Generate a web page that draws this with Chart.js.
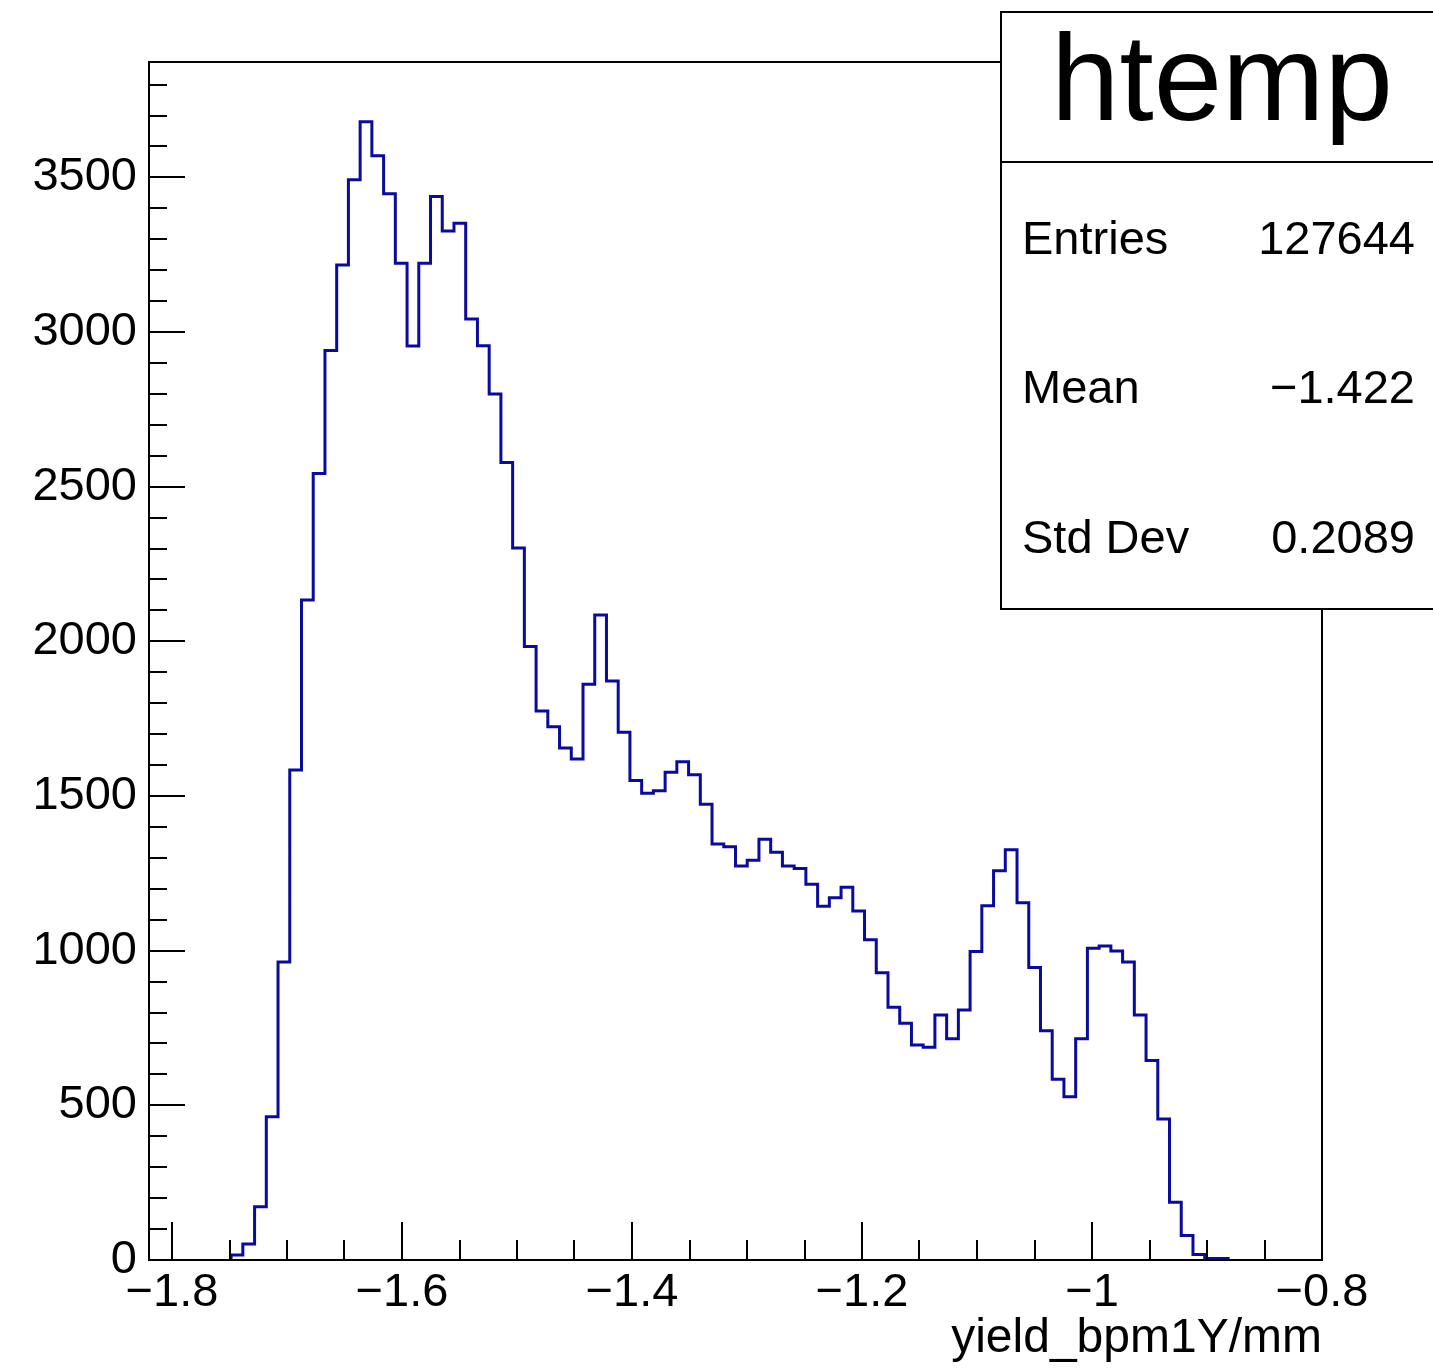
<!DOCTYPE html>
<html>
<head>
<meta charset="utf-8">
<title>htemp</title>
<script src="https://cdn.jsdelivr.net/npm/chart.js@4.4.0/dist/chart.umd.min.js"></script>
<style>
  html, body { margin: 0; padding: 0; background: #fff; overflow: hidden; }
  #wrap { position: relative; width: 1433px; height: 1370px; overflow: hidden; }
  #wrap canvas { position: absolute; left: 0; top: 0; }
  .st { position: absolute; font-family: "Liberation Sans", Arial, sans-serif; color: #000; line-height: 1; white-space: nowrap; }
  #box { position: absolute; left: 1000px; top: 11px; width: 470px; height: 599px; box-sizing: border-box; border: 2px solid #000; background: #fff; }
  #sep { position: absolute; left: 1000px; top: 161px; width: 470px; height: 2px; background: #000; }
  .lab { left: 1022px; font-size: 47px; }
  .val { right: 18px; font-size: 47px; text-align: right; }
</style>
</head>
<body>
<div id="wrap">
  <canvas id="c" width="1433" height="1370"></canvas>
  <div id="box"></div>
  <div id="sep"></div>
  <div class="st" style="left:1000px;width:444px;top:16px;font-size:123px;text-align:center;">htemp</div>
  <div class="st lab" style="top:214px;">Entries</div>
  <div class="st val" style="top:214px;">127644</div>
  <div class="st lab" style="top:363px;">Mean</div>
  <div class="st val" style="top:363px;">&minus;1.422</div>
  <div class="st lab" style="top:513px;">Std Dev</div>
  <div class="st val" style="top:513px;">0.2089</div>
</div>
<script>
// histogram binning (100 bins)
var xMin = -1.82;
var xMax = -0.80;
var binWidth = 0.0102;

// bin contents of yield_bpm1Y
var counts = [
  0, 0, 0, 0, 0, 0, 0, 16, 52, 172,
  463, 963, 1584, 2134, 2543, 2940, 3217, 3492, 3680, 3570,
  3447, 3222, 2955, 3222, 3438, 3327, 3352, 3042, 2956, 2800,
  2578, 2302, 1983, 1775, 1724, 1655, 1620, 1861, 2085, 1872,
  1706, 1550, 1509, 1517, 1577, 1611, 1569, 1473, 1345, 1336,
  1274, 1292, 1360, 1318, 1274, 1266, 1215, 1144, 1171, 1205,
  1128, 1035, 929, 817, 765, 695, 688, 792, 715, 808,
  997, 1145, 1258, 1326, 1155, 946, 741, 584, 528, 715,
  1008, 1015, 999, 963, 792, 645, 456, 187, 79, 18,
  5, 5, 0, 0, 0, 0, 0, 0, 0, 0
];

var yMax = 3873;
var xTicks = [-1.8, -1.6, -1.4, -1.2, -1.0, -0.8];
var yTicks = [0, 500, 1000, 1500, 2000, 2500, 3000, 3500];
var xMinorStep = 0.05;
var yMinorStep = 100;

var FONT = '"Liberation Sans", Arial, sans-serif';

// outline points: left edge of every filled bin, closed down to zero at both ends
var first = counts.findIndex(function(c) { return c > 0; });
var last = counts.length - 1;
while (last > 0 && counts[last] === 0) last--;
var points = [{ x: xMin + first * binWidth, y: 0 }];
for (var i = first; i <= last; i++) {
  points.push({ x: xMin + i * binWidth, y: counts[i] });
}
points.push({ x: xMin + (last + 1) * binWidth, y: 0 });

function fmt(v) {
  var s = String(Math.round(Math.abs(v) * 1000) / 1000);
  return v < 0 ? '\u2212' + s : s;
}

// ROOT style frame with inward ticks
var frame = {
  id: 'frame',
  afterDatasetsDraw: function(chart) {
    var ctx = chart.ctx, a = chart.chartArea;
    var xs = chart.scales.x, ys = chart.scales.y;
    ctx.save();
    ctx.strokeStyle = '#000';
    ctx.lineWidth = 2;
    ctx.strokeRect(a.left, a.top, a.right - a.left, a.bottom - a.top);
    ctx.beginPath();
    for (var v = 0; v <= yMax; v += yMinorStep) {
      var py = Math.round(ys.getPixelForValue(v));
      var len = yTicks.indexOf(v) >= 0 ? 36 : 18;
      ctx.moveTo(a.left, py);
      ctx.lineTo(a.left + len, py);
    }
    for (var k = Math.ceil(xMin / xMinorStep); k * xMinorStep <= xMax + 1e-9; k++) {
      var px = Math.round(xs.getPixelForValue(k * xMinorStep));
      var l = (k % 4 === 0) ? 38 : 20;
      ctx.moveTo(px, a.bottom);
      ctx.lineTo(px, a.bottom - l);
    }
    ctx.stroke();
    ctx.restore();
  }
};

new Chart(document.getElementById('c'), {
  type: 'line',
  data: {
    datasets: [{
      label: 'htemp',
      data: points,
      stepped: 'before',
      borderColor: '#0a0a9e',
      borderWidth: 3,
      pointRadius: 0,
      fill: false,
      tension: 0
    }]
  },
  options: {
    responsive: false,
    devicePixelRatio: 1,
    animation: false,
    layout: { padding: { top: 62, right: 111, left: 0, bottom: 0 } },
    plugins: { legend: { display: false }, tooltip: { enabled: false } },
    scales: {
      x: {
        type: 'linear',
        min: xMin,
        max: xMax,
        afterFit: function(s) { s.height = 110; },
        afterBuildTicks: function(s) { s.ticks = xTicks.map(function(v) { return { value: v }; }); },
        grid: { display: false, drawTicks: false },
        border: { display: false },
        ticks: {
          autoSkip: false,
          maxRotation: 0,
          padding: 5,
          color: '#000',
          font: { family: FONT, size: 47 },
          callback: function(v) { return fmt(v); }
        },
        title: {
          display: true,
          text: 'yield_bpm1Y/mm',
          align: 'end',
          color: '#000',
          font: { family: FONT, size: 48 },
          padding: { top: 0, bottom: 2 }
        }
      },
      y: {
        min: 0,
        max: yMax,
        afterFit: function(s) { s.width = 149; },
        afterBuildTicks: function(s) { s.ticks = yTicks.map(function(v) { return { value: v }; }); },
        grid: { display: false, drawTicks: false },
        border: { display: false },
        ticks: {
          autoSkip: false,
          padding: 12,
          color: '#000',
          font: { family: FONT, size: 47 },
          callback: function(v) { return fmt(v); }
        }
      }
    }
  },
  plugins: [frame]
});
</script>
</body>
</html>
